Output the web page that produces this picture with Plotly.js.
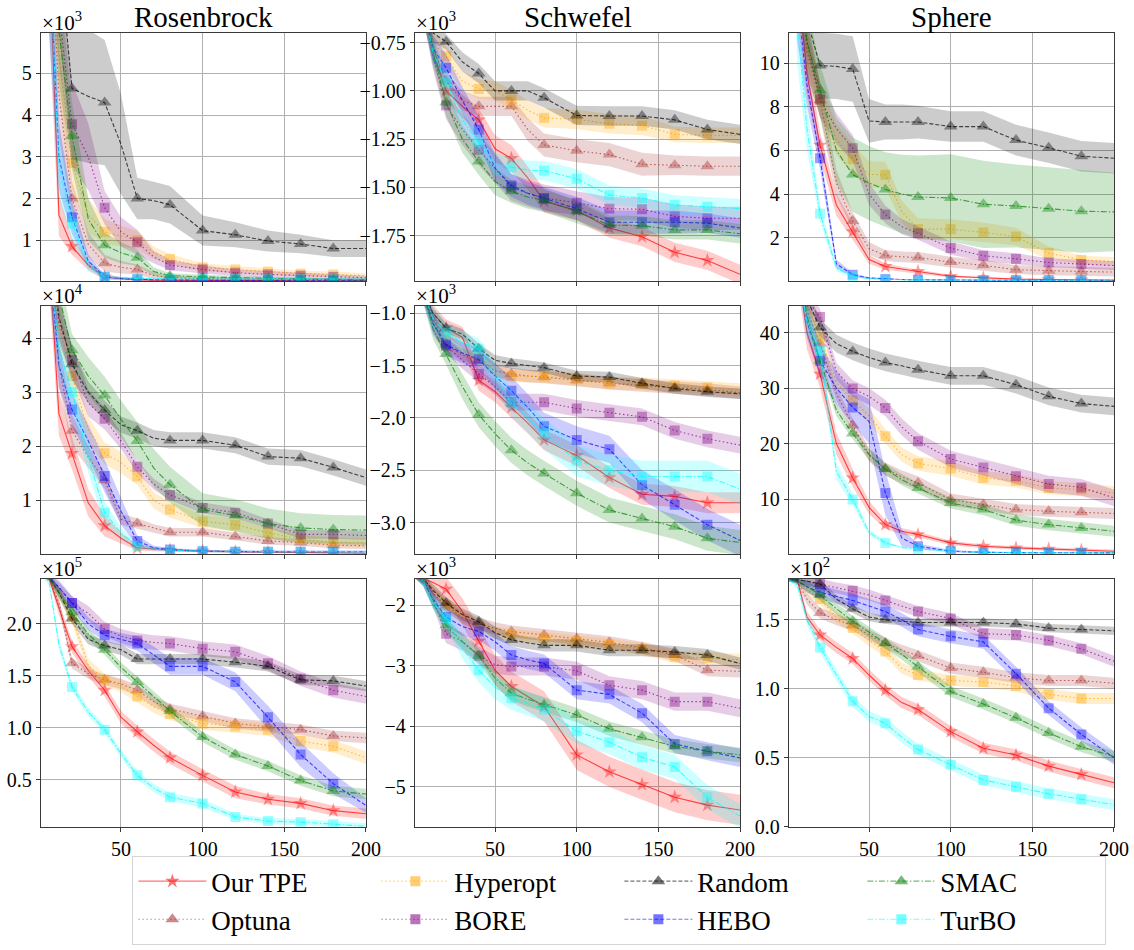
<!DOCTYPE html>
<html><head><meta charset="utf-8">
<script src="https://cdn.plot.ly/plotly-3.0.1.min.js"></script>
<style>html,body{margin:0;padding:0;background:#fff}#chart{width:1134px;height:950px}</style>
</head><body><div id="chart"></div>
<script>
// ---------------- DATA ----------------
const X = [1, 6, 12, 20, 30, 40, 50, 60, 70, 80, 100, 120, 140, 160, 180, 200];
const MARK_X = [20, 40, 60, 80, 100, 120, 140, 160, 180];
const METHODS = ['Our TPE','Optuna','Hyperopt','BORE','Random','HEBO','SMAC','TurBO'];
const FUNCS = ['Rosenbrock','Schwefel','Sphere'];

// Row 1, Rosenbrock (x10^3)
const r1c1_tpe = [30, 8, 1.6, 0.85, 0.4, 0.12, 0.08, 0.05, 0.04, 0.04, 0.03, 0.03, 0.03, 0.02, 0.02, 0.02];
const r1c1_optuna = [30, 9, 4.5, 2.0, 0.9, 0.45, 0.35, 0.3, 0.15, 0.1, 0.08, 0.07, 0.07, 0.06, 0.06, 0.05];
const r1c1_hyperopt = [30, 10, 5.5, 2.85, 1.6, 1.2, 1.1, 1.0, 0.7, 0.55, 0.35, 0.3, 0.25, 0.2, 0.18, 0.15];
const r1c1_bore = [30, 10, 6.5, 3.78, 3.0, 1.78, 1.2, 0.95, 0.6, 0.4, 0.3, 0.22, 0.18, 0.15, 0.12, 0.1];
const r1c1_random = [30, 12, 8, 4.64, 4.45, 4.3, 3.3, 2.0, 1.95, 1.85, 1.23, 1.13, 0.98, 0.91, 0.8, 0.8];
const r1c1_hebo = [30, 8, 3.0, 1.55, 0.5, 0.12, 0.08, 0.06, 0.05, 0.05, 0.04, 0.04, 0.04, 0.04, 0.04, 0.04];
const r1c1_smac = [30, 10, 6.0, 3.5, 1.5, 0.88, 0.7, 0.58, 0.25, 0.15, 0.12, 0.1, 0.08, 0.07, 0.06, 0.05];
const r1c1_turbo = [30, 8, 2.8, 1.4, 0.4, 0.12, 0.1, 0.08, 0.08, 0.07, 0.07, 0.07, 0.07, 0.07, 0.07, 0.07];
const r1c1_tpe_err = [5, 2, 0.5, 0.2, 0.12, 0.06, 0.04, 0.03, 0.02, 0.02, 0.02, 0.02, 0.02, 0.01, 0.01, 0.01];
const r1c1_optuna_err = [5, 2, 1, 0.4, 0.3, 0.2, 0.15, 0.12, 0.08, 0.05, 0.04, 0.04, 0.04, 0.03, 0.03, 0.03];
const r1c1_hyperopt_err = [5, 2, 1, 0.6, 0.4, 0.3, 0.25, 0.22, 0.15, 0.12, 0.1, 0.08, 0.08, 0.07, 0.07, 0.06];
const r1c1_bore_err = [5, 2, 1.2, 1.0, 0.8, 0.4, 0.35, 0.3, 0.15, 0.12, 0.1, 0.08, 0.08, 0.07, 0.06, 0.05];
const r1c1_random_err = [5, 3, 2, 1.7, 1.6, 1.5, 1.2, 0.5, 0.45, 0.45, 0.36, 0.3, 0.25, 0.22, 0.2, 0.2];
const r1c1_hebo_err = [5, 2, 0.8, 0.4, 0.15, 0.05, 0.03, 0.02, 0.02, 0.02, 0.02, 0.02, 0.02, 0.02, 0.02, 0.02];
const r1c1_smac_err = [5, 2, 1.2, 0.8, 0.5, 0.3, 0.25, 0.2, 0.1, 0.06, 0.05, 0.04, 0.04, 0.03, 0.03, 0.03];
const r1c1_turbo_err = [5, 2, 0.8, 0.4, 0.15, 0.05, 0.03, 0.03, 0.03, 0.02, 0.02, 0.02, 0.02, 0.02, 0.02, 0.02];

// Row 1, Schwefel (x10^3)
const r1c2_tpe = [-0.3, -0.55, -0.8, -1.0, -1.08, -1.15, -1.3, -1.35, -1.45, -1.57, -1.62, -1.71, -1.755, -1.836, -1.878, -1.95];
const r1c2_optuna = [-0.3, -0.55, -0.78, -0.95, -1.05, -1.08, -1.08, -1.08, -1.2, -1.28, -1.31, -1.33, -1.38, -1.385, -1.39, -1.39];
const r1c2_hyperopt = [-0.3, -0.55, -0.75, -0.82, -0.95, -0.99, -1.0, -1.045, -1.1, -1.14, -1.147, -1.17, -1.18, -1.225, -1.23, -1.23];
const r1c2_bore = [-0.3, -0.55, -0.82, -1.075, -1.2, -1.305, -1.4, -1.5, -1.53, -1.555, -1.58, -1.61, -1.613, -1.65, -1.66, -1.66];
const r1c2_random = [-0.3, -0.55, -0.7, -0.745, -0.85, -0.91, -1.0, -1.0, -1.0, -1.036, -1.127, -1.13, -1.13, -1.15, -1.2, -1.225];
const r1c2_hebo = [-0.3, -0.55, -0.78, -0.88, -1.05, -1.2, -1.4, -1.49, -1.53, -1.558, -1.61, -1.68, -1.68, -1.68, -1.685, -1.71];
const r1c2_smac = [-0.3, -0.55, -0.8, -1.06, -1.25, -1.366, -1.47, -1.52, -1.55, -1.567, -1.625, -1.695, -1.698, -1.72, -1.72, -1.74];
const r1c2_turbo = [-0.3, -0.55, -0.8, -0.955, -1.15, -1.267, -1.38, -1.395, -1.41, -1.413, -1.455, -1.54, -1.555, -1.59, -1.6, -1.61];
const r1c2_tpe_err = [0.1, 0.08, 0.06, 0.05, 0.06, 0.06, 0.07, 0.07, 0.06, 0.06, 0.05, 0.05, 0.05, 0.05, 0.05, 0.05];
const r1c2_optuna_err = [0.1, 0.08, 0.06, 0.05, 0.05, 0.05, 0.05, 0.05, 0.06, 0.06, 0.06, 0.06, 0.06, 0.05, 0.05, 0.05];
const r1c2_hyperopt_err = [0.1, 0.08, 0.06, 0.05, 0.05, 0.05, 0.05, 0.05, 0.05, 0.05, 0.05, 0.05, 0.05, 0.04, 0.04, 0.04];
const r1c2_bore_err = [0.1, 0.08, 0.07, 0.07, 0.08, 0.08, 0.08, 0.07, 0.07, 0.07, 0.06, 0.06, 0.06, 0.06, 0.06, 0.06];
const r1c2_random_err = [0.1, 0.08, 0.05, 0.04, 0.05, 0.05, 0.05, 0.05, 0.05, 0.05, 0.05, 0.05, 0.05, 0.05, 0.05, 0.05];
const r1c2_hebo_err = [0.1, 0.08, 0.07, 0.07, 0.07, 0.07, 0.07, 0.06, 0.06, 0.06, 0.06, 0.06, 0.06, 0.06, 0.05, 0.05];
const r1c2_smac_err = [0.1, 0.08, 0.07, 0.07, 0.07, 0.07, 0.07, 0.06, 0.06, 0.06, 0.06, 0.05, 0.05, 0.05, 0.05, 0.05];
const r1c2_turbo_err = [0.1, 0.08, 0.06, 0.06, 0.06, 0.06, 0.06, 0.05, 0.05, 0.05, 0.05, 0.05, 0.05, 0.05, 0.05, 0.05];

// Row 1, Sphere
const r1c3_tpe = [25, 14, 9.5, 6.24, 3.5, 2.27, 1.0, 0.68, 0.55, 0.45, 0.23, 0.15, 0.1, 0.08, 0.06, 0.05];
const r1c3_optuna = [25, 15, 10.5, 8.3, 4.5, 2.76, 1.5, 1.18, 1.12, 1.09, 0.88, 0.73, 0.53, 0.48, 0.45, 0.42];
const r1c3_hyperopt = [25, 15, 11, 8.3, 6.5, 5.6, 4.9, 4.88, 3.2, 2.39, 2.39, 2.24, 2.05, 1.29, 0.98, 0.9];
const r1c3_bore = [25, 15, 11, 8.33, 7.0, 6.1, 4.0, 3.06, 2.5, 2.2, 1.52, 1.17, 1.03, 0.86, 0.79, 0.72];
const r1c3_random = [25, 16, 12, 9.89, 9.85, 9.73, 7.35, 7.3, 7.3, 7.3, 7.09, 7.09, 6.47, 6.12, 5.73, 5.64];
const r1c3_hebo = [25, 13, 9, 5.64, 0.8, 0.3, 0.15, 0.1, 0.08, 0.07, 0.05, 0.05, 0.05, 0.05, 0.05, 0.05];
const r1c3_smac = [25, 15, 11, 8.76, 6.0, 4.89, 4.5, 4.21, 4.0, 3.86, 3.82, 3.53, 3.45, 3.33, 3.21, 3.18];
const r1c3_turbo = [25, 12, 7, 3.1, 0.6, 0.23, 0.12, 0.08, 0.07, 0.06, 0.05, 0.05, 0.05, 0.05, 0.05, 0.05];
const r1c3_tpe_err = [3, 2, 1, 0.6, 0.5, 0.4, 0.2, 0.15, 0.12, 0.1, 0.06, 0.04, 0.03, 0.03, 0.02, 0.02];
const r1c3_optuna_err = [3, 2, 1, 0.8, 0.6, 0.4, 0.3, 0.25, 0.25, 0.25, 0.25, 0.25, 0.2, 0.2, 0.2, 0.2];
const r1c3_hyperopt_err = [3, 2, 1, 0.8, 0.7, 0.7, 0.6, 0.6, 0.5, 0.5, 0.45, 0.45, 0.4, 0.3, 0.2, 0.2];
const r1c3_bore_err = [3, 2, 1, 0.8, 0.7, 0.6, 0.5, 0.4, 0.35, 0.3, 0.3, 0.25, 0.25, 0.2, 0.2, 0.2];
const r1c3_random_err = [3, 2, 1.5, 1.5, 1.5, 1.5, 1.0, 0.8, 0.8, 0.75, 0.7, 0.7, 0.7, 0.7, 0.7, 0.7];
const r1c3_hebo_err = [3, 2, 1, 0.5, 0.2, 0.08, 0.04, 0.03, 0.02, 0.02, 0.02, 0.02, 0.02, 0.02, 0.02, 0.02];
const r1c3_smac_err = [3, 2, 1.5, 1.2, 1.5, 1.7, 1.7, 1.7, 1.8, 1.9, 2.0, 2.0, 1.9, 1.9, 1.9, 1.8];
const r1c3_turbo_err = [3, 2, 1, 0.4, 0.15, 0.05, 0.03, 0.02, 0.02, 0.02, 0.02, 0.02, 0.02, 0.02, 0.02, 0.02];

// Row 2, Rosenbrock (x10^4)
const r2c1_tpe = [12, 5.5, 2.6, 1.87, 0.95, 0.53, 0.3, 0.12, 0.1, 0.08, 0.06, 0.05, 0.04, 0.03, 0.02, 0.02];
const r2c1_optuna = [12, 6, 3.5, 2.29, 1.8, 1.37, 0.65, 0.57, 0.48, 0.41, 0.41, 0.33, 0.25, 0.22, 0.17, 0.16];
const r2c1_hyperopt = [12, 6, 4.2, 3.3, 2.3, 1.87, 1.7, 1.44, 1.0, 0.83, 0.61, 0.55, 0.4, 0.28, 0.23, 0.22];
const r2c1_bore = [12, 6, 4.3, 3.6, 2.8, 2.51, 2.1, 1.62, 1.3, 1.1, 0.86, 0.77, 0.57, 0.37, 0.37, 0.35];
const r2c1_random = [12, 6, 4.4, 3.52, 3.0, 2.67, 2.4, 2.29, 2.15, 2.11, 2.11, 2.02, 1.81, 1.78, 1.61, 1.42];
const r2c1_hebo = [12, 5.5, 3.5, 2.68, 2.1, 1.45, 0.8, 0.25, 0.12, 0.09, 0.06, 0.05, 0.05, 0.05, 0.05, 0.05];
const r2c1_smac = [12, 6.5, 4.8, 3.78, 3.3, 2.94, 2.5, 2.1, 1.6, 1.29, 0.83, 0.72, 0.57, 0.49, 0.46, 0.45];
const r2c1_turbo = [12, 5.5, 3.8, 3.0, 1.8, 0.77, 0.4, 0.15, 0.1, 0.08, 0.06, 0.05, 0.05, 0.05, 0.05, 0.05];
const r2c1_tpe_err = [1, 0.6, 0.4, 0.3, 0.25, 0.2, 0.1, 0.05, 0.04, 0.03, 0.02, 0.02, 0.02, 0.02, 0.01, 0.01];
const r2c1_optuna_err = [1, 0.6, 0.4, 0.3, 0.2, 0.15, 0.1, 0.1, 0.08, 0.08, 0.08, 0.07, 0.07, 0.06, 0.06, 0.06];
const r2c1_hyperopt_err = [1, 0.6, 0.4, 0.3, 0.25, 0.2, 0.2, 0.15, 0.15, 0.15, 0.12, 0.12, 0.1, 0.08, 0.08, 0.08];
const r2c1_bore_err = [1, 0.6, 0.4, 0.3, 0.25, 0.2, 0.15, 0.12, 0.1, 0.1, 0.1, 0.1, 0.08, 0.08, 0.08, 0.08];
const r2c1_random_err = [1, 0.6, 0.4, 0.3, 0.2, 0.18, 0.15, 0.15, 0.15, 0.15, 0.15, 0.15, 0.15, 0.15, 0.15, 0.15];
const r2c1_hebo_err = [1, 0.6, 0.4, 0.3, 0.3, 0.3, 0.25, 0.1, 0.04, 0.03, 0.02, 0.02, 0.02, 0.02, 0.02, 0.02];
const r2c1_smac_err = [1, 0.6, 0.4, 0.3, 0.35, 0.35, 0.35, 0.35, 0.35, 0.33, 0.3, 0.3, 0.28, 0.27, 0.27, 0.27];
const r2c1_turbo_err = [1, 0.6, 0.4, 0.3, 0.3, 0.2, 0.1, 0.05, 0.03, 0.02, 0.02, 0.02, 0.02, 0.02, 0.02, 0.02];

// Row 2, Schwefel (x10^3)
const r2c2_tpe = [-0.6, -0.8, -1.0, -1.14, -1.23, -1.64, -1.75, -1.9, -2.05, -2.21, -2.36, -2.57, -2.73, -2.75, -2.81, -2.81];
const r2c2_optuna = [-0.6, -0.8, -1.05, -1.3, -1.4, -1.45, -1.55, -1.58, -1.6, -1.61, -1.64, -1.67, -1.69, -1.71, -1.73, -1.76];
const r2c2_hyperopt = [-0.6, -0.8, -1.05, -1.25, -1.38, -1.42, -1.55, -1.6, -1.6, -1.605, -1.63, -1.67, -1.675, -1.69, -1.71, -1.73];
const r2c2_bore = [-0.6, -0.8, -1.1, -1.31, -1.45, -1.58, -1.7, -1.85, -1.85, -1.85, -1.91, -1.95, -1.99, -2.12, -2.2, -2.26];
const r2c2_random = [-0.6, -0.8, -1.0, -1.145, -1.2, -1.34, -1.45, -1.48, -1.5, -1.52, -1.6, -1.61, -1.67, -1.72, -1.75, -1.77];
const r2c2_hebo = [-0.6, -0.8, -1.1, -1.3, -1.38, -1.44, -1.6, -1.74, -1.9, -2.08, -2.21, -2.3, -2.64, -2.83, -3.02, -3.17];
const r2c2_smac = [-0.6, -0.8, -1.15, -1.39, -1.7, -1.97, -2.15, -2.31, -2.43, -2.53, -2.72, -2.88, -2.96, -3.04, -3.15, -3.19];
const r2c2_turbo = [-0.6, -0.8, -1.05, -1.19, -1.28, -1.34, -1.6, -1.86, -2.0, -2.15, -2.41, -2.5, -2.56, -2.56, -2.56, -2.68];
const r2c2_tpe_err = [0.1, 0.1, 0.08, 0.08, 0.1, 0.1, 0.1, 0.1, 0.1, 0.1, 0.1, 0.1, 0.1, 0.1, 0.1, 0.1];
const r2c2_optuna_err = [0.1, 0.08, 0.06, 0.06, 0.06, 0.06, 0.06, 0.06, 0.06, 0.06, 0.06, 0.06, 0.06, 0.06, 0.06, 0.06];
const r2c2_hyperopt_err = [0.1, 0.08, 0.06, 0.06, 0.06, 0.06, 0.06, 0.06, 0.06, 0.06, 0.06, 0.06, 0.06, 0.06, 0.06, 0.06];
const r2c2_bore_err = [0.1, 0.08, 0.08, 0.08, 0.08, 0.08, 0.08, 0.08, 0.08, 0.08, 0.08, 0.08, 0.08, 0.08, 0.08, 0.08];
const r2c2_random_err = [0.1, 0.08, 0.05, 0.05, 0.05, 0.05, 0.05, 0.05, 0.05, 0.05, 0.05, 0.05, 0.05, 0.05, 0.05, 0.05];
const r2c2_hebo_err = [0.1, 0.1, 0.1, 0.1, 0.1, 0.1, 0.12, 0.13, 0.13, 0.13, 0.13, 0.13, 0.14, 0.15, 0.15, 0.15];
const r2c2_smac_err = [0.1, 0.1, 0.1, 0.1, 0.12, 0.12, 0.12, 0.12, 0.12, 0.12, 0.12, 0.12, 0.12, 0.12, 0.12, 0.12];
const r2c2_turbo_err = [0.1, 0.1, 0.1, 0.1, 0.1, 0.1, 0.12, 0.13, 0.14, 0.15, 0.15, 0.15, 0.15, 0.15, 0.15, 0.15];

// Row 2, Sphere
const r2c3_tpe = [80, 52, 40, 32.5, 20, 13.8, 8.5, 5.4, 4.2, 3.6, 2.1, 1.5, 1.2, 1.0, 0.8, 0.6];
const r2c3_optuna = [80, 55, 44, 38, 29, 23.3, 18, 15.4, 14, 12.9, 9.9, 9.0, 8.1, 7.8, 7.6, 7.4];
const r2c3_hyperopt = [80, 55, 45, 39.1, 31, 27.8, 25, 21.3, 18, 16.4, 15.5, 13.8, 13.3, 12.0, 11.7, 11.1];
const r2c3_bore = [80, 56, 46, 42.8, 33, 29.9, 28.5, 26.4, 23, 20.4, 17.2, 15.7, 14.1, 12.7, 12.1, 10.2];
const r2c3_random = [80, 56, 46, 40.9, 38, 36.6, 35.5, 34.6, 34, 33.3, 32.2, 32.2, 30.6, 28.5, 27.2, 26.7];
const r2c3_hebo = [80, 54, 42, 34.9, 30, 26.5, 24, 11.1, 3.0, 1.5, 0.6, 0.4, 0.35, 0.3, 0.3, 0.3];
const r2c3_smac = [80, 55, 43, 34.9, 26, 21.8, 18, 15.4, 13.5, 12.0, 9.3, 8.1, 6.2, 5.4, 4.8, 4.2];
const r2c3_turbo = [80, 52, 42, 36.7, 15, 9.9, 4, 2.1, 1.3, 1.0, 0.6, 0.4, 0.35, 0.3, 0.3, 0.3];
const r2c3_tpe_err = [3, 3, 3, 2.5, 2, 1.6, 1.2, 0.8, 0.6, 0.5, 0.4, 0.3, 0.3, 0.3, 0.3, 0.3];
const r2c3_optuna_err = [3, 2, 1.5, 1.2, 1.2, 1.2, 1.2, 1.2, 1.2, 1.2, 1.1, 1.0, 1.0, 1.0, 1.0, 1.0];
const r2c3_hyperopt_err = [3, 2, 1.5, 1.3, 1.3, 1.3, 1.3, 1.3, 1.3, 1.3, 1.3, 1.2, 1.2, 1.2, 1.2, 1.2];
const r2c3_bore_err = [3, 2, 1.5, 1.5, 1.5, 1.5, 1.5, 1.5, 1.5, 1.5, 1.5, 1.5, 1.5, 1.5, 1.5, 1.5];
const r2c3_random_err = [3, 2, 1.6, 1.6, 1.6, 1.6, 1.6, 1.6, 1.6, 1.6, 1.6, 1.6, 1.6, 1.6, 1.6, 1.6];
const r2c3_hebo_err = [3, 3, 3, 3, 3, 3, 4, 4, 1.5, 0.5, 0.2, 0.15, 0.1, 0.1, 0.1, 0.1];
const r2c3_smac_err = [3, 2, 1.5, 1.2, 1.1, 1.0, 1.0, 1.0, 1.0, 1.0, 1.0, 1.0, 1.0, 1.0, 1.0, 1.0];
const r2c3_turbo_err = [3, 3, 3, 2, 1.5, 1, 0.5, 0.3, 0.2, 0.15, 0.1, 0.1, 0.1, 0.1, 0.1, 0.1];

// Row 3, Rosenbrock (x10^5)
const r3c1_tpe = [2.48, 2.44, 2.15, 1.78, 1.55, 1.36, 1.1, 0.96, 0.83, 0.71, 0.54, 0.38, 0.31, 0.27, 0.2, 0.17];
const r3c1_optuna = [2.48, 2.44, 2.2, 1.62, 1.52, 1.46, 1.42, 1.36, 1.25, 1.18, 1.11, 1.04, 1.01, 0.98, 0.92, 0.9];
const r3c1_hyperopt = [2.48, 2.45, 2.3, 2.06, 1.6, 1.46, 1.4, 1.3, 1.2, 1.13, 1.04, 1.01, 0.98, 0.87, 0.82, 0.71];
const r3c1_bore = [2.48, 2.45, 2.35, 2.2, 2.1, 1.95, 1.88, 1.84, 1.82, 1.81, 1.76, 1.73, 1.62, 1.47, 1.36, 1.3];
const r3c1_random = [2.48, 2.45, 2.3, 2.05, 1.85, 1.79, 1.75, 1.66, 1.66, 1.66, 1.66, 1.63, 1.59, 1.46, 1.45, 1.4];
const r3c1_hebo = [2.48, 2.45, 2.35, 2.2, 2.0, 1.89, 1.85, 1.81, 1.7, 1.59, 1.59, 1.44, 1.1, 0.74, 0.46, 0.25];
const r3c1_smac = [2.48, 2.45, 2.3, 2.11, 1.9, 1.75, 1.58, 1.44, 1.3, 1.16, 0.91, 0.74, 0.63, 0.49, 0.39, 0.36];
const r3c1_turbo = [2.48, 2.4, 1.8, 1.39, 1.15, 0.98, 0.75, 0.54, 0.42, 0.33, 0.27, 0.14, 0.1, 0.09, 0.07, 0.05];
const r3c1_tpe_err = [0.02, 0.03, 0.06, 0.06, 0.06, 0.06, 0.06, 0.06, 0.06, 0.06, 0.06, 0.06, 0.05, 0.05, 0.05, 0.05];
const r3c1_optuna_err = [0.02, 0.03, 0.05, 0.05, 0.05, 0.05, 0.05, 0.05, 0.05, 0.05, 0.05, 0.05, 0.05, 0.05, 0.05, 0.05];
const r3c1_hyperopt_err = [0.02, 0.03, 0.06, 0.06, 0.06, 0.06, 0.06, 0.06, 0.06, 0.06, 0.06, 0.06, 0.06, 0.06, 0.06, 0.06];
const r3c1_bore_err = [0.02, 0.03, 0.07, 0.07, 0.07, 0.07, 0.07, 0.07, 0.07, 0.07, 0.07, 0.07, 0.07, 0.07, 0.07, 0.07];
const r3c1_random_err = [0.02, 0.03, 0.05, 0.05, 0.05, 0.05, 0.05, 0.05, 0.05, 0.05, 0.05, 0.05, 0.05, 0.05, 0.05, 0.05];
const r3c1_hebo_err = [0.02, 0.03, 0.05, 0.06, 0.06, 0.06, 0.06, 0.07, 0.08, 0.08, 0.08, 0.09, 0.11, 0.12, 0.1, 0.07];
const r3c1_smac_err = [0.02, 0.03, 0.05, 0.05, 0.05, 0.05, 0.05, 0.05, 0.05, 0.05, 0.05, 0.05, 0.05, 0.05, 0.05, 0.05];
const r3c1_turbo_err = [0.02, 0.03, 0.05, 0.04, 0.04, 0.04, 0.04, 0.04, 0.04, 0.04, 0.04, 0.03, 0.03, 0.03, 0.03, 0.03];

// Row 3, Schwefel (x10^3)
const r3c2_tpe = [-1.5, -1.55, -1.62, -1.73, -2.1, -2.59, -3.07, -3.34, -3.5, -3.67, -4.47, -4.75, -4.96, -5.17, -5.3, -5.38];
const r3c2_optuna = [-1.5, -1.55, -1.8, -2.0, -2.2, -2.3, -2.38, -2.43, -2.46, -2.49, -2.55, -2.61, -2.7, -2.82, -3.07, -3.09];
const r3c2_hyperopt = [-1.5, -1.55, -1.8, -2.0, -2.2, -2.35, -2.45, -2.49, -2.52, -2.54, -2.59, -2.65, -2.72, -2.85, -2.87, -2.9];
const r3c2_bore = [-1.5, -1.6, -1.9, -2.47, -2.6, -2.83, -2.98, -3.01, -3.01, -3.01, -3.08, -3.32, -3.4, -3.59, -3.59, -3.7];
const r3c2_random = [-1.5, -1.55, -1.75, -1.96, -2.15, -2.27, -2.45, -2.57, -2.62, -2.66, -2.66, -2.74, -2.74, -2.77, -2.82, -2.96];
const r3c2_hebo = [-1.5, -1.6, -1.9, -2.19, -2.35, -2.43, -2.6, -2.82, -2.9, -2.96, -3.4, -3.47, -3.78, -4.29, -4.41, -4.52];
const r3c2_smac = [-1.5, -1.6, -1.95, -2.33, -2.6, -2.83, -3.2, -3.45, -3.55, -3.64, -3.81, -4.04, -4.18, -4.33, -4.41, -4.47];
const r3c2_turbo = [-1.5, -1.6, -1.95, -2.21, -2.7, -3.07, -3.35, -3.53, -3.62, -3.72, -4.08, -4.26, -4.51, -4.67, -5.17, -5.48];
const r3c2_tpe_err = [0.05, 0.1, 0.15, 0.2, 0.22, 0.25, 0.25, 0.25, 0.25, 0.25, 0.25, 0.25, 0.25, 0.25, 0.25, 0.25];
const r3c2_optuna_err = [0.05, 0.08, 0.1, 0.1, 0.1, 0.1, 0.1, 0.1, 0.1, 0.1, 0.1, 0.1, 0.1, 0.1, 0.1, 0.1];
const r3c2_hyperopt_err = [0.05, 0.08, 0.1, 0.1, 0.1, 0.1, 0.1, 0.1, 0.1, 0.1, 0.1, 0.1, 0.1, 0.1, 0.1, 0.1];
const r3c2_bore_err = [0.05, 0.08, 0.12, 0.15, 0.15, 0.15, 0.15, 0.15, 0.15, 0.15, 0.15, 0.15, 0.15, 0.15, 0.15, 0.15];
const r3c2_random_err = [0.05, 0.08, 0.1, 0.1, 0.1, 0.1, 0.1, 0.1, 0.1, 0.1, 0.1, 0.1, 0.1, 0.1, 0.1, 0.1];
const r3c2_hebo_err = [0.05, 0.08, 0.12, 0.15, 0.15, 0.15, 0.15, 0.15, 0.15, 0.15, 0.15, 0.15, 0.15, 0.15, 0.15, 0.15];
const r3c2_smac_err = [0.05, 0.08, 0.1, 0.12, 0.12, 0.12, 0.12, 0.12, 0.12, 0.12, 0.12, 0.12, 0.12, 0.12, 0.12, 0.12];
const r3c2_turbo_err = [0.05, 0.08, 0.12, 0.15, 0.18, 0.2, 0.2, 0.2, 0.2, 0.2, 0.2, 0.2, 0.2, 0.2, 0.2, 0.2];

// Row 3, Sphere (x10^2)
const r3c3_tpe = [1.79, 1.79, 1.52, 1.39, 1.3, 1.22, 1.1, 0.99, 0.9, 0.85, 0.69, 0.57, 0.52, 0.44, 0.38, 0.32];
const r3c3_optuna = [1.79, 1.78, 1.65, 1.55, 1.5, 1.46, 1.39, 1.33, 1.28, 1.24, 1.15, 1.12, 1.08, 1.06, 1.06, 1.04];
const r3c3_hyperopt = [1.79, 1.78, 1.72, 1.65, 1.52, 1.44, 1.35, 1.27, 1.15, 1.1, 1.06, 1.05, 1.02, 0.96, 0.93, 0.93];
const r3c3_bore = [1.79, 1.79, 1.78, 1.76, 1.73, 1.71, 1.68, 1.64, 1.6, 1.56, 1.51, 1.4, 1.39, 1.35, 1.29, 1.2];
const r3c3_random = [1.79, 1.79, 1.78, 1.76, 1.65, 1.58, 1.52, 1.5, 1.49, 1.48, 1.48, 1.48, 1.47, 1.44, 1.43, 1.42];
const r3c3_hebo = [1.79, 1.78, 1.74, 1.7, 1.67, 1.64, 1.6, 1.56, 1.5, 1.43, 1.38, 1.34, 1.11, 0.86, 0.67, 0.5];
const r3c3_smac = [1.79, 1.78, 1.74, 1.68, 1.58, 1.49, 1.41, 1.33, 1.25, 1.16, 0.98, 0.89, 0.79, 0.68, 0.58, 0.51];
const r3c3_turbo = [1.79, 1.75, 1.5, 1.3, 1.1, 0.91, 0.8, 0.75, 0.65, 0.56, 0.45, 0.34, 0.29, 0.24, 0.2, 0.16];
const r3c3_tpe_err = [0.01, 0.02, 0.04, 0.04, 0.04, 0.04, 0.04, 0.04, 0.04, 0.04, 0.04, 0.04, 0.04, 0.04, 0.04, 0.04];
const r3c3_optuna_err = [0.01, 0.02, 0.04, 0.04, 0.04, 0.04, 0.04, 0.04, 0.04, 0.04, 0.04, 0.04, 0.04, 0.04, 0.04, 0.04];
const r3c3_hyperopt_err = [0.01, 0.02, 0.04, 0.04, 0.04, 0.04, 0.04, 0.04, 0.04, 0.04, 0.04, 0.04, 0.04, 0.04, 0.04, 0.04];
const r3c3_bore_err = [0.01, 0.02, 0.04, 0.04, 0.04, 0.04, 0.04, 0.04, 0.04, 0.04, 0.04, 0.04, 0.04, 0.04, 0.04, 0.04];
const r3c3_random_err = [0.01, 0.02, 0.03, 0.03, 0.03, 0.03, 0.03, 0.03, 0.03, 0.03, 0.03, 0.03, 0.03, 0.03, 0.03, 0.03];
const r3c3_hebo_err = [0.01, 0.02, 0.04, 0.05, 0.05, 0.05, 0.05, 0.05, 0.05, 0.05, 0.05, 0.05, 0.05, 0.05, 0.05, 0.05];
const r3c3_smac_err = [0.01, 0.02, 0.04, 0.04, 0.04, 0.04, 0.04, 0.04, 0.04, 0.04, 0.04, 0.04, 0.04, 0.04, 0.04, 0.04];
const r3c3_turbo_err = [0.01, 0.02, 0.04, 0.04, 0.04, 0.04, 0.04, 0.04, 0.04, 0.04, 0.04, 0.04, 0.04, 0.04, 0.04, 0.04];

// ---------------- STYLE ----------------
const FONT = '"Liberation Serif", "Times New Roman", Times, serif';
const STY = [
  {rgb:'255,0,0',     dash:'solid',              symbol:'star',        size:11},
  {rgb:'165,42,42',   dash:'1.5px,2.5px',        symbol:'triangle-up', size:12},
  {rgb:'255,165,0',   dash:'1.5px,2.5px',        symbol:'square',      size:10},
  {rgb:'128,0,128',   dash:'1.5px,2.5px',        symbol:'square',      size:10},
  {rgb:'0,0,0',       dash:'4px,2px',            symbol:'triangle-up', size:12},
  {rgb:'0,0,255',     dash:'4px,2px',            symbol:'square',      size:10},
  {rgb:'0,128,0',     dash:'6px,2px,1.5px,2px',  symbol:'triangle-up', size:12},
  {rgb:'0,255,255',   dash:'6px,2px,1.5px,2px',  symbol:'square',      size:10}
];
const KEYS = ['tpe','optuna','hyperopt','bore','random','hebo','smac','turbo'];
const DATA = {
  r1c1:{tpe:[r1c1_tpe,r1c1_tpe_err],optuna:[r1c1_optuna,r1c1_optuna_err],hyperopt:[r1c1_hyperopt,r1c1_hyperopt_err],bore:[r1c1_bore,r1c1_bore_err],random:[r1c1_random,r1c1_random_err],hebo:[r1c1_hebo,r1c1_hebo_err],smac:[r1c1_smac,r1c1_smac_err],turbo:[r1c1_turbo,r1c1_turbo_err]},
  r1c2:{tpe:[r1c2_tpe,r1c2_tpe_err],optuna:[r1c2_optuna,r1c2_optuna_err],hyperopt:[r1c2_hyperopt,r1c2_hyperopt_err],bore:[r1c2_bore,r1c2_bore_err],random:[r1c2_random,r1c2_random_err],hebo:[r1c2_hebo,r1c2_hebo_err],smac:[r1c2_smac,r1c2_smac_err],turbo:[r1c2_turbo,r1c2_turbo_err]},
  r1c3:{tpe:[r1c3_tpe,r1c3_tpe_err],optuna:[r1c3_optuna,r1c3_optuna_err],hyperopt:[r1c3_hyperopt,r1c3_hyperopt_err],bore:[r1c3_bore,r1c3_bore_err],random:[r1c3_random,r1c3_random_err],hebo:[r1c3_hebo,r1c3_hebo_err],smac:[r1c3_smac,r1c3_smac_err],turbo:[r1c3_turbo,r1c3_turbo_err]},
  r2c1:{tpe:[r2c1_tpe,r2c1_tpe_err],optuna:[r2c1_optuna,r2c1_optuna_err],hyperopt:[r2c1_hyperopt,r2c1_hyperopt_err],bore:[r2c1_bore,r2c1_bore_err],random:[r2c1_random,r2c1_random_err],hebo:[r2c1_hebo,r2c1_hebo_err],smac:[r2c1_smac,r2c1_smac_err],turbo:[r2c1_turbo,r2c1_turbo_err]},
  r2c2:{tpe:[r2c2_tpe,r2c2_tpe_err],optuna:[r2c2_optuna,r2c2_optuna_err],hyperopt:[r2c2_hyperopt,r2c2_hyperopt_err],bore:[r2c2_bore,r2c2_bore_err],random:[r2c2_random,r2c2_random_err],hebo:[r2c2_hebo,r2c2_hebo_err],smac:[r2c2_smac,r2c2_smac_err],turbo:[r2c2_turbo,r2c2_turbo_err]},
  r2c3:{tpe:[r2c3_tpe,r2c3_tpe_err],optuna:[r2c3_optuna,r2c3_optuna_err],hyperopt:[r2c3_hyperopt,r2c3_hyperopt_err],bore:[r2c3_bore,r2c3_bore_err],random:[r2c3_random,r2c3_random_err],hebo:[r2c3_hebo,r2c3_hebo_err],smac:[r2c3_smac,r2c3_smac_err],turbo:[r2c3_turbo,r2c3_turbo_err]},
  r3c1:{tpe:[r3c1_tpe,r3c1_tpe_err],optuna:[r3c1_optuna,r3c1_optuna_err],hyperopt:[r3c1_hyperopt,r3c1_hyperopt_err],bore:[r3c1_bore,r3c1_bore_err],random:[r3c1_random,r3c1_random_err],hebo:[r3c1_hebo,r3c1_hebo_err],smac:[r3c1_smac,r3c1_smac_err],turbo:[r3c1_turbo,r3c1_turbo_err]},
  r3c2:{tpe:[r3c2_tpe,r3c2_tpe_err],optuna:[r3c2_optuna,r3c2_optuna_err],hyperopt:[r3c2_hyperopt,r3c2_hyperopt_err],bore:[r3c2_bore,r3c2_bore_err],random:[r3c2_random,r3c2_random_err],hebo:[r3c2_hebo,r3c2_hebo_err],smac:[r3c2_smac,r3c2_smac_err],turbo:[r3c2_turbo,r3c2_turbo_err]},
  r3c3:{tpe:[r3c3_tpe,r3c3_tpe_err],optuna:[r3c3_optuna,r3c3_optuna_err],hyperopt:[r3c3_hyperopt,r3c3_hyperopt_err],bore:[r3c3_bore,r3c3_bore_err],random:[r3c3_random,r3c3_random_err],hebo:[r3c3_hebo,r3c3_hebo_err],smac:[r3c3_smac,r3c3_smac_err],turbo:[r3c3_turbo,r3c3_turbo_err]}
};
const PANELS = [
  {id:'r1c1', range:[0.02,5.97],   tickvals:[1,2,3,4,5],            fmt:'.0f', mult:'3'},
  {id:'r1c2', range:[-1.985,-0.70],tickvals:[-1.75,-1.5,-1.25,-1.0,-0.75], fmt:'.2f', mult:'3'},
  {id:'r1c3', range:[0.01,11.38],  tickvals:[2,4,6,8,10],           fmt:'.0f', mult:null},
  {id:'r2c1', range:[0.007,4.60],  tickvals:[1,2,3,4],              fmt:'.0f', mult:'4'},
  {id:'r2c2', range:[-3.30,-0.93], tickvals:[-3.0,-2.5,-2.0,-1.5,-1.0], fmt:'.1f', mult:'3'},
  {id:'r2c3', range:[0.1,44.8],    tickvals:[10,20,30,40],          fmt:'.0f', mult:null},
  {id:'r3c1', range:[0.044,2.433], tickvals:[0.5,1.0,1.5,2.0],      fmt:'.1f', mult:'5'},
  {id:'r3c2', range:[-5.66,-1.56], tickvals:[-5,-4,-3,-2],          fmt:'.0f', mult:'3'},
  {id:'r3c3', range:[0,1.797],     tickvals:[0.0,0.5,1.0,1.5],      fmt:'.1f', mult:'2'}
];

// ---------------- BUILD ----------------
// plot area spans page pixels x 40..1114, y 33..945
const XDOM = [[0.0009,0.3035],[0.3492,0.6518],[0.6974,1.0]];
const YDOM = [[0.7259,1.0],[0.4243,0.6985],[0.1228,0.3969]];
const traces = [];
const layout = {
  width:1134, height:950,
  margin:{l:40, r:20, t:33, b:5},
  paper_bgcolor:'#fff', plot_bgcolor:'#fff',
  font:{family:FONT, color:'#000', size:19},
  hovermode:false,
  annotations:[],
  legend:{orientation:'h', x:0.086, xanchor:'left', y:0.0905, yanchor:'top', traceorder:'normal',
          font:{family:FONT, size:27, color:'#000'},
          bordercolor:'#d5d5d5', borderwidth:1, bgcolor:'#fff',
          entrywidth:160, entrywidthmode:'pixels', itemwidth:68, tracegroupgap:0}
};
PANELS.forEach((p, i) => {
  const row = Math.floor(i/3), col = i%3;
  const n = i+1, xs = n===1?'x':'x'+n, ys = n===1?'y':'y'+n;
  layout[n===1?'xaxis':'xaxis'+n] = {
    domain:XDOM[col], anchor:ys, range:[1,200], tickvals:[50,100,150,200],
    showticklabels: row===2, showgrid:true, gridcolor:'#b0b0b0', gridwidth:1,
    showline:true, mirror:true, linecolor:'#3a3a3a', linewidth:1.2,
    ticks:'outside', ticklen:4, tickcolor:'#3a3a3a', zeroline:false,
    tickfont:{family:FONT, size:20, color:'#000'}
  };
  layout[n===1?'yaxis':'yaxis'+n] = {
    domain:YDOM[row], anchor:xs, range:p.range, tickvals:p.tickvals, tickformat:p.fmt,
    showgrid:true, gridcolor:'#b0b0b0', gridwidth:1,
    showline:true, mirror:true, linecolor:'#3a3a3a', linewidth:1.2,
    ticks:'outside', ticklen:4, tickcolor:'#3a3a3a', zeroline:false,
    tickfont:{family:FONT, size:20, color:'#000'}
  };
  if (p.mult) {
    layout.annotations.push({xref:'paper', yref:'paper', x:XDOM[col][0]-0.001, y:YDOM[row][1],
      xanchor:'left', yanchor:'bottom', showarrow:false, yshift:-4,
      text:'×10<sup>'+p.mult+'</sup>', font:{family:FONT, size:21, color:'#000'}});
  }
  KEYS.forEach((k, m) => {
    const [mean, err] = DATA[p.id][k];
    const s = STY[m];
    const lo = mean.map((v, j) => v - err[j]);
    const hi = mean.map((v, j) => v + err[j]);
    traces.push({x:X, y:lo, xaxis:xs, yaxis:ys, mode:'lines', line:{width:0, color:'rgba(0,0,0,0)'}, showlegend:false, hoverinfo:'skip'});
    traces.push({x:X, y:hi, xaxis:xs, yaxis:ys, mode:'lines', fill:'tonexty', fillcolor:'rgba('+s.rgb+',0.2)', line:{width:0, color:'rgba(0,0,0,0)'}, showlegend:false, hoverinfo:'skip'});
    traces.push({x:X, y:mean, xaxis:xs, yaxis:ys, mode:'lines+markers', showlegend:false,
      line:{color:'rgba('+s.rgb+',0.7)', width:1.1, dash:s.dash},
      marker:{symbol:s.symbol, color:'rgba('+s.rgb+',0.55)', size:X.map(x => MARK_X.includes(x) ? s.size : 0), line:{width:0}}});
  });
});
// Titles
FUNCS.forEach((f, c) => {
  layout.annotations.push({xref:'paper', yref:'paper', x:(XDOM[c][0]+XDOM[c][1])/2, y:1, xanchor:'center', yanchor:'bottom',
    showarrow:false, yshift:-2, text:f, font:{family:FONT, size:29, color:'#000'}});
});
// Legend entries (row-major order for a 4-column horizontal legend)
[0,2,4,6,1,3,5,7].forEach(m => {
  const s = STY[m];
  traces.push({x:[null], y:[null], xaxis:'x', yaxis:'y', mode:'lines+markers', name:METHODS[m], showlegend:true,
    line:{color:'rgba('+s.rgb+',0.55)', width:1.1, dash:s.dash},
    marker:{symbol:s.symbol, color:'rgba('+s.rgb+',0.55)', size:s.size, line:{width:0}}});
});
Plotly.newPlot('chart', traces, layout, {displayModeBar:false, staticPlot:true});
</script></body></html>
